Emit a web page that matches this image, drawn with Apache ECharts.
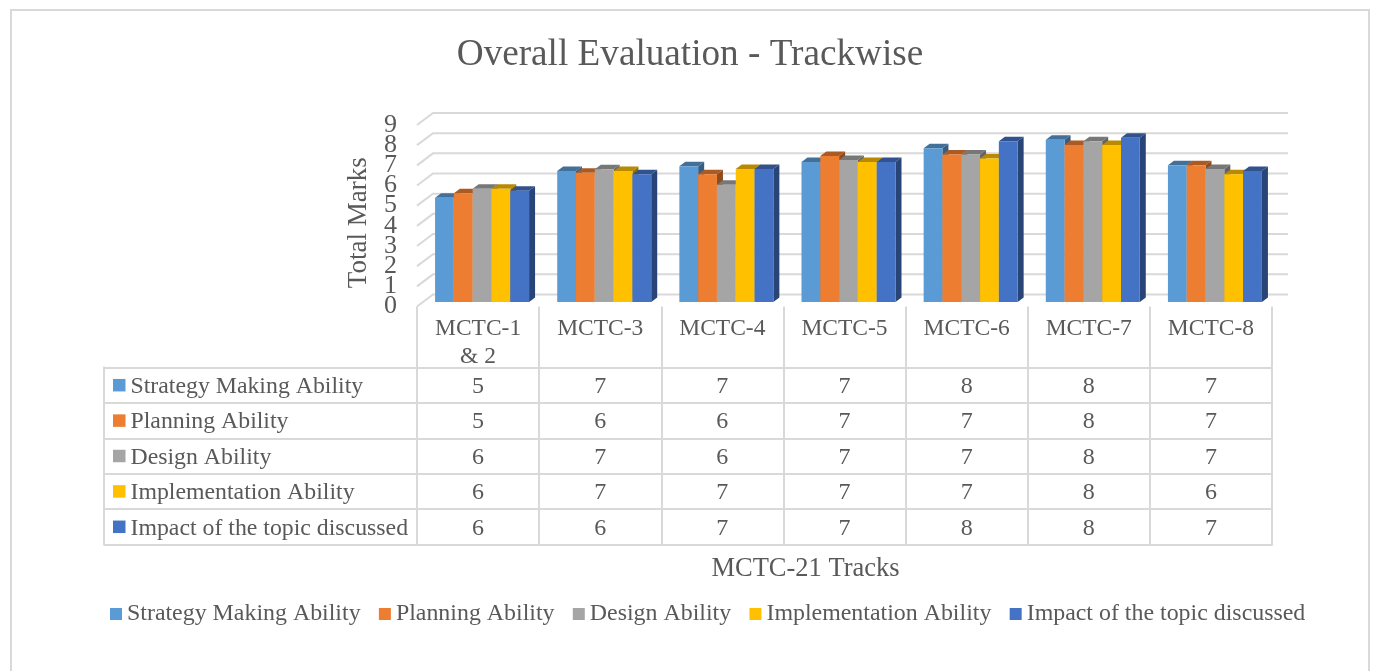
<!DOCTYPE html>
<html><head><meta charset="utf-8">
<style>html,body{margin:0;padding:0;background:#fff}#c{width:1376px;height:671px}</style>
<script src="https://cdn.jsdelivr.net/npm/echarts@6/dist/echarts.min.js"></script>
</head><body><div id="c"></div>
<script>
const categories = ['MCTC-1\n& 2','MCTC-3','MCTC-4','MCTC-5','MCTC-6','MCTC-7','MCTC-8'];
const seriesNames = ['Strategy Making Ability','Planning Ability','Design Ability','Implementation Ability','Impact of the topic discussed'];
const strategy = [5.17,6.5,6.73,6.94,7.62,8.05,6.78];
const planning = [5.39,6.41,6.33,7.24,7.31,7.79,6.78];
const design = [5.62,6.58,5.82,7.04,7.31,7.97,6.6];
const implementation = [5.62,6.5,6.6,6.94,7.11,7.79,6.33];
const impact = [5.52,6.33,6.6,6.94,7.97,8.15,6.5];
const tableStrategy = [5,7,7,7,8,8,7];
const tablePlanning = [5,6,6,7,7,8,7];
const tableDesign = [6,7,6,7,7,8,7];
const tableImplementation = [6,7,7,7,7,8,6];
const tableImpact = [6,6,7,7,8,8,7];
const colors = ['#5B9BD5','#ED7D31','#A5A5A5','#FFC000','#4472C4'];
const yTicks = [0,1,2,3,4,5,6,7,8,9];
const allValues = [strategy,planning,design,implementation,impact];
const tableRows = [tableStrategy,tablePlanning,tableDesign,tableImplementation,tableImpact];

const FONT = '"Liberation Serif","Times New Roman",serif';
const TXT = '#595959', LINE = '#D9D9D9';
const DX = 4, DY = -4.5, BARW = 18.8, SX = 6, SY = -4.5, WX = 16, WY = -12;

function shade(hex, f){
  const n = parseInt(hex.slice(1),16);
  return 'rgb(' + [n>>16,(n>>8)&255,n&255].map(c=>Math.round(c*f)).join(',') + ')';
}
const ctr = colors.length;
const barSeries = seriesNames.map((name,i)=>({
  name, type:'custom', xAxisIndex:0, yAxisIndex:0, z:5,
  itemStyle:{color:colors[i]},
  data: allValues[i].map((v,k)=>[k,v]),
  encode:{x:0,y:1},
  renderItem(params, api){
    const top = api.coord([api.value(0), api.value(1)]);
    const base = api.coord([api.value(0), 0]);
    const x = top[0] + DX + (i-(ctr)/2)*BARW;
    const y = top[1] + DY, b = base[1] + DY, r = x + BARW;
    return {type:'group', children:[
      {type:'polygon',shape:{points:[[r,y],[r+SX,y+SY],[r+SX,b+SY],[r,b]]},style:{fill:shade(colors[i],0.6)}},
      {type:'polygon',shape:{points:[[x,y],[x+SX,y+SY],[r+SX,y+SY],[r,y]]},style:{fill:shade(colors[i],0.72)}},
      {type:'rect',shape:{x,y,width:BARW,height:b-y},style:{fill:colors[i]}}
    ]};
  }
}));

const wallSeries = {
  type:'custom', xAxisIndex:0, yAxisIndex:0, z:1, silent:true,
  data: yTicks.map(v=>[0,v]), encode:{x:0,y:1},
  renderItem(params, api){
    const cs = params.coordSys;
    const v = api.value(1);
    const y = api.coord([0, v])[1];
    const L = cs.x, R = cs.x + cs.width;
    return {type:'group',children:[
      {type:'polyline',shape:{points:[[L,y],[L+WX,y+WY],[R+WX,y+WY]]},
        style:{fill:null,stroke:LINE,lineWidth:2}},
      {type:'text',style:{x:L-20,y:y,text:String(v),align:'right',verticalAlign:'middle',
        fontFamily:FONT,fontSize:26,fill:TXT}}
    ]};
  }
};

const cells = [];
tableRows.forEach((row,r)=>row.forEach((v,c)=>cells.push([c,r,v])));

const rich = {t:{fontFamily:FONT,fontSize:23.8,color:TXT,padding:[3,0,0,5]}};
colors.forEach((c,i)=>{rich['s'+i]={width:12.5,height:12.5,backgroundColor:c};});

const option = {
  animation:false,
  backgroundColor:'#fff',
  textStyle:{fontFamily:FONT},
  title:{text:'Overall Evaluation - Trackwise',left:685,top:32,textAlign:'center',
    textStyle:{fontFamily:FONT,fontSize:37.2,fontWeight:'normal',color:TXT}},
  legend:{left:105,top:597,itemWidth:12,itemHeight:12,itemGap:18.3,icon:'rect',selectedMode:false,
    data:seriesNames,textStyle:{fontFamily:FONT,fontSize:23.9,color:TXT,padding:[0,0,0,0]}},
  grid:[
    {left:417,width:855,top:125,height:181.5},
    {left:417,width:855,top:367.5,height:177}
  ],
  xAxis:[
    {type:'category',gridIndex:0,data:categories,
      axisLine:{show:false},
      axisTick:{show:true,alignWithLabel:false,length:61,lineStyle:{color:LINE,width:2}},
      axisLabel:{fontFamily:FONT,fontSize:23.5,color:TXT,lineHeight:28,margin:8,interval:0},
      splitLine:{show:false}},
    {type:'category',gridIndex:1,data:categories,position:'bottom',
      axisLine:{show:true,lineStyle:{color:LINE,width:2}},axisTick:{show:false},axisLabel:{show:false},
      splitLine:{show:true,lineStyle:{color:LINE,width:2}},
      name:'MCTC-21 Tracks',nameLocation:'middle',nameGap:11,
      nameTextStyle:{fontFamily:FONT,fontSize:26.5,color:TXT,padding:[0,78,0,0]}}
  ],
  yAxis:[
    {type:'value',gridIndex:0,min:0,max:9,interval:1,
      axisLine:{show:false},axisTick:{show:false},splitLine:{show:false},
      axisLabel:{show:false},
      name:'Total Marks',nameLocation:'middle',nameGap:45,
      nameTextStyle:{fontFamily:FONT,fontSize:27,color:TXT,padding:[0,14,0,0]}},
    {type:'category',gridIndex:1,inverse:true,data:seriesNames,
      axisLine:{show:true,lineStyle:{color:LINE,width:2}},
      axisTick:{show:true,length:313,lineStyle:{color:LINE,width:2}},
      splitLine:{show:true,lineStyle:{color:LINE,width:2}},
      axisLabel:{align:'left',margin:304,interval:0,
        formatter:(v,idx)=>'{s'+idx+'|}{t|'+v+'}',rich}}
  ],
  graphic:[
    {type:'line',shape:{x1:104,y1:366.5,x2:104,y2:545.5},style:{stroke:LINE,lineWidth:2},z:3},
    {type:'polyline',shape:{points:[[11,680],[11,10],[1369,10],[1369,680]]},style:{fill:null,stroke:LINE,lineWidth:2},z:0}
  ],
  series:[
    wallSeries,
    ...barSeries,
    {type:'custom',xAxisIndex:1,yAxisIndex:1,silent:true,z:4,
      data:cells,encode:{x:0,y:1},
      renderItem(params,api){
        const p = api.coord([api.value(0),api.value(1)]);
        return {type:'text',style:{x:p[0],y:p[1]+1.5,text:String(api.value(2)),
          align:'center',verticalAlign:'middle',fontFamily:FONT,fontSize:24,fill:TXT}};
      }}
  ]
};
echarts.init(document.getElementById('c'),null,{renderer:'canvas'}).setOption(option);
</script></body></html>
